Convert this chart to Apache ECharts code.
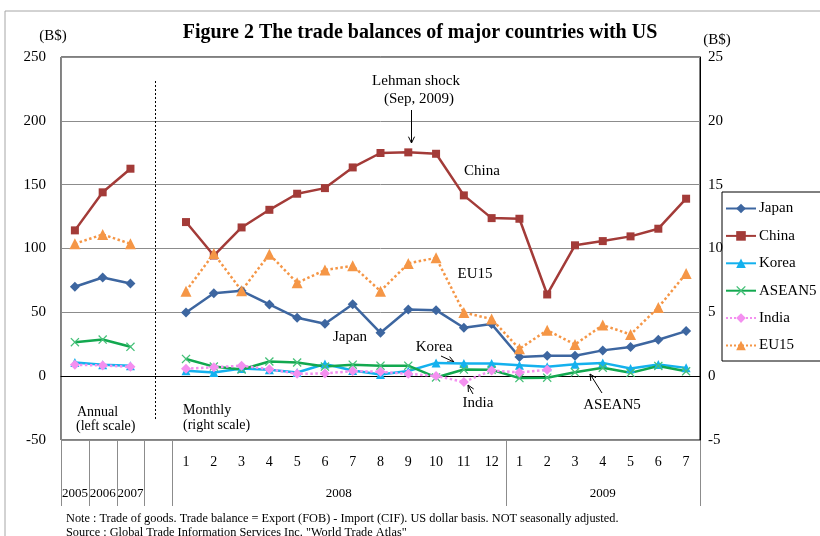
<!DOCTYPE html>
<html>
<head>
<meta charset="utf-8">
<script src="https://cdn.jsdelivr.net/npm/echarts@6/dist/echarts.min.js"></script>
<style>
  html, body { margin: 0; padding: 0; background: #fff; }
  #main { width: 820px; height: 536px; }
</style>
</head>
<body>
<div id="main"></div>
<script>
  // categories: 3 annual points, one empty slot, then monthly 2008/1 - 2009/7
  const categories = ['2005', '2006', '2007', 'gap',
    '2008/1', '2008/2', '2008/3', '2008/4', '2008/5', '2008/6', '2008/7', '2008/8', '2008/9', '2008/10', '2008/11', '2008/12',
    '2009/1', '2009/2', '2009/3', '2009/4', '2009/5', '2009/6', '2009/7'];
  const monthLabels = ['', '', '', '', '1', '2', '3', '4', '5', '6', '7', '8', '9', '10', '11', '12', '1', '2', '3', '4', '5', '6', '7'];
  const yearLabels = [['2005', 0, 0], ['2006', 1, 1], ['2007', 2, 2], ['2008', 4, 15], ['2009', 16, 22]];
  const separators = [0, 1, 2, 3, 4, 16, 23];

  // annual values (left scale, B$)
  const japanAnnual = [70, 77.3, 72.6];
  const chinaAnnual = [114.2, 144, 162.5];
  const koreaAnnual = [10.7, 8.9, 8.1];
  const aseanAnnual = [26.6, 28.7, 23];
  const indiaAnnual = [8.9, 8.4, 7.3];
  const eu15Annual = [103.7, 111, 103.7];

  // monthly values (right scale, B$)
  const japanMonthly = [4.99, 6.5, 6.69, 5.62, 4.57, 4.1, 5.64, 3.4, 5.22, 5.17, 3.79, 4.08, 1.5, 1.6, 1.6, 2.02, 2.28, 2.85, 3.53];
  const chinaMonthly = [12.07, 9.45, 11.65, 13.03, 14.29, 14.73, 16.35, 17.48, 17.53, 17.42, 14.16, 12.38, 12.33, 6.4, 10.25, 10.58, 10.95, 11.55, 13.9];
  const koreaMonthly = [0.42, 0.29, 0.6, 0.5, 0.29, 0.95, 0.45, 0.13, 0.4, 1.04, 0.99, 0.99, 0.86, 0.73, 0.94, 1.04, 0.6, 0.92, 0.65];
  const aseanMonthly = [1.35, 0.75, 0.52, 1.15, 1.07, 0.75, 0.9, 0.82, 0.82, -0.1, 0.52, 0.5, -0.15, -0.12, 0.3, 0.66, 0.26, 0.8, 0.38];
  const indiaMonthly = [0.58, 0.7, 0.82, 0.55, 0.18, 0.21, 0.4, 0.34, 0.18, 0.02, -0.45, 0.45, 0.29, 0.5, null, null, null, null, null];
  const eu15Monthly = [6.66, 9.6, 6.69, 9.55, 7.31, 8.31, 8.65, 6.66, 8.83, 9.27, 4.99, 4.47, 2.14, 3.6, 2.48, 4.0, 3.27, 5.38, 8.05];

  const leftTicks = { min: -50, max: 250, interval: 50 };
  const rightTicks = { min: -5, max: 25, interval: 5 };

  const FONT = '"Liberation Serif", "Times New Roman", serif';
  const crossPath = 'path://M0,1L1,0L5,4L9,0L10,1L6,5L10,9L9,10L5,6L1,10L0,9L4,5Z';

  function annual(arr) {
    const out = arr.slice();
    while (out.length < categories.length) out.push(null);
    return out;
  }
  function monthly(arr) {
    return [null, null, null, null].concat(arr);
  }

  const styles = {
    Japan: { color: '#3D66A0', symbol: 'diamond', size: 10, type: 'solid', width: 2.5 },
    China: { color: '#A33B38', symbol: 'rect', size: 8, type: 'solid', width: 2.5 },
    Korea: { color: '#14B1EE', symbol: 'triangle', size: 9, type: 'solid', width: 2.5 },
    ASEAN5: { color: '#12A84F', symbol: crossPath, size: 9, type: 'solid', width: 2.5, markColor: '#45C078' },
    India: { color: '#F490F0', symbol: 'diamond', size: 10, type: 'dotted', width: 2.5 },
    EU15: { color: '#F59646', symbol: 'triangle', size: 11, type: 'dotted', width: 2.5 }
  };

  function makeSeries(name, data, axis) {
    const s = styles[name];
    return {
      name: name,
      type: 'line',
      yAxisIndex: axis,
      data: data,
      symbol: s.symbol,
      symbolSize: s.size,
      showSymbol: true,
      connectNulls: false,
      animation: false,
      lineStyle: { color: s.color, width: s.width, type: s.type },
      itemStyle: { color: s.markColor || s.color, borderWidth: 0 }
    };
  }

  const names = ['Japan', 'China', 'Korea', 'ASEAN5', 'India', 'EU15'];
  const annualData = [japanAnnual, chinaAnnual, koreaAnnual, aseanAnnual, indiaAnnual, eu15Annual];
  const monthlyData = [japanMonthly, chinaMonthly, koreaMonthly, aseanMonthly, indiaMonthly, eu15Monthly];
  let series = [];
  names.forEach(function (n, i) {
    series.push(makeSeries(n, annual(annualData[i]), 0));
  });
  names.forEach(function (n, i) {
    series.push(makeSeries(n, monthly(monthlyData[i]), 1));
  });

  const myChart = echarts.init(document.getElementById('main'));
  let option = {
    animation: false,
    textStyle: { fontFamily: FONT, color: '#000' },
    title: {
      text: 'Figure 2 The trade balances of major countries with US',
      left: 415,
      top: 18,
      textAlign: 'center',
      textStyle: { fontFamily: FONT, fontSize: 20, fontWeight: 'bold', color: '#000' }
    },
    grid: {
      left: 61, right: 120, top: 57, bottom: 96,
      show: true, borderColor: '#000', borderWidth: 1, backgroundColor: 'transparent'
    },
    legend: {
      data: names,
      orient: 'vertical',
      left: 722,
      top: 192,
      itemWidth: 30,
      itemHeight: 12,
      itemGap: 12.4,
      padding: [9, 60, 8, 3],
      borderColor: '#000',
      borderWidth: 1,
      borderRadius: 0,
      selectedMode: false,
      textStyle: { fontFamily: FONT, fontSize: 15, color: '#000', padding: [0, 0, 0, -2] }
    },
    xAxis: {
      type: 'category',
      data: categories,
      boundaryGap: true,
      axisLine: { show: true, lineStyle: { color: '#000', width: 1 } },
      axisTick: { show: false },
      axisLabel: {
        interval: 0,
        margin: 15,
        fontFamily: FONT, fontSize: 14, color: '#000',
        formatter: function (v, i) { return monthLabels[i]; }
      },
      splitLine: { show: false }
    },
    yAxis: [
      {
        type: 'value',
        min: leftTicks.min, max: leftTicks.max, interval: leftTicks.interval,
        axisLine: { show: true, lineStyle: { color: '#888', width: 1 } },
        axisTick: { show: false },
        axisLabel: { margin: 15, fontFamily: FONT, fontSize: 15, color: '#000' },
        splitLine: { show: true, lineStyle: { color: '#8C8C8C', width: 1 } }
      },
      {
        type: 'value',
        position: 'right',
        min: rightTicks.min, max: rightTicks.max, interval: rightTicks.interval,
        axisLine: { show: true, lineStyle: { color: '#000', width: 1 } },
        axisTick: { show: false },
        axisLabel: { margin: 8, fontFamily: FONT, fontSize: 15, color: '#000' },
        splitLine: { show: false }
      }
    ],
    series: series
  };
  myChart.setOption(option);

  // decorations placed from the axes
  const x0 = myChart.convertToPixel({ xAxisIndex: 0 }, 0);
  const step = myChart.convertToPixel({ xAxisIndex: 0 }, 1) - x0;
  const yBottom = myChart.convertToPixel({ yAxisIndex: 0 }, leftTicks.min);
  function bound(i) { return x0 + (i - 0.5) * step; }

  let graphic = [];
  graphic.push({
    type: 'rect', silent: true, z: -1,
    shape: { x: 5, y: 11, width: 830, height: 540 },
    style: { fill: 'none', stroke: '#A6A6A6', lineWidth: 1 }
  });
  separators.forEach(function (i) {
    const x = Math.round(bound(i)) + 0.5;
    graphic.push({
      type: 'line', silent: true,
      shape: { x1: x, y1: yBottom, x2: x, y2: yBottom + 66 },
      style: { stroke: '#8C8C8C', lineWidth: 1 }
    });
  });
  yearLabels.forEach(function (y) {
    const cx = (bound(y[1]) + bound(y[2] + 1)) / 2;
    graphic.push({
      type: 'text', silent: true,
      x: cx, y: yBottom + 54,
      style: { text: y[0], fontFamily: FONT, fontSize: 13, fill: '#000', textAlign: 'center', textVerticalAlign: 'middle' }
    });
  });
  // dotted divider between annual and monthly
  const gx = Math.round(myChart.convertToPixel({ xAxisIndex: 0 }, 3)) - 2.5;
  graphic.push({
    type: 'line', silent: true,
    shape: { x1: gx, y1: 81, x2: gx, y2: 420 },
    style: { stroke: '#000', lineWidth: 1, lineDash: [2, 2] }
  });

  function txt(t, x, y, align, size) {
    graphic.push({
      type: 'text', silent: true, x: x, y: y,
      style: { text: t, fontFamily: FONT, fontSize: size || 15, fill: '#000', textAlign: align || 'center', textVerticalAlign: 'middle' }
    });
  }
  function arrow(x1, y1, x2, y2) {
    const a = Math.atan2(y2 - y1, x2 - x1);
    const h = 7, w = 0.45;
    graphic.push({
      type: 'line', silent: true,
      shape: { x1: x1, y1: y1, x2: x2, y2: y2 },
      style: { stroke: '#000', lineWidth: 1 }
    });
    graphic.push({
      type: 'polyline', silent: true,
      shape: { points: [
        [x2 - h * Math.cos(a - w), y2 - h * Math.sin(a - w)],
        [x2, y2],
        [x2 - h * Math.cos(a + w), y2 - h * Math.sin(a + w)]
      ] },
      style: { stroke: '#000', lineWidth: 1, fill: 'none' }
    });
  }

  txt('(B$)', 53, 36);
  txt('(B$)', 717, 40);
  txt('Lehman shock', 416, 81);
  txt('(Sep, 2009)', 419, 99);
  arrow(411.5, 110, 411.5, 143);
  txt('China', 482, 171);
  txt('EU15', 475, 274);
  txt('Japan', 350, 337);
  txt('Korea', 434, 347);
  arrow(441, 356, 454, 362);
  txt('India', 478, 403);
  arrow(473, 394, 468, 385);
  txt('ASEAN5', 612, 405);
  arrow(602, 393, 590, 374);
  txt('Annual', 77, 412, 'left', 14);
  txt('(left scale)', 76, 426, 'left', 14);
  txt('Monthly', 183, 410, 'left', 14);
  txt('(right scale)', 183, 425, 'left', 14);
  txt('Note : Trade of goods. Trade balance = Export (FOB) - Import (CIF). US dollar basis. NOT seasonally adjusted.', 66, 519, 'left', 12.3);
  txt('Source : Global Trade Information Services Inc. "World Trade Atlas"', 66, 533, 'left', 12.3);

  myChart.setOption({ graphic: graphic });
</script>
</body>
</html>
